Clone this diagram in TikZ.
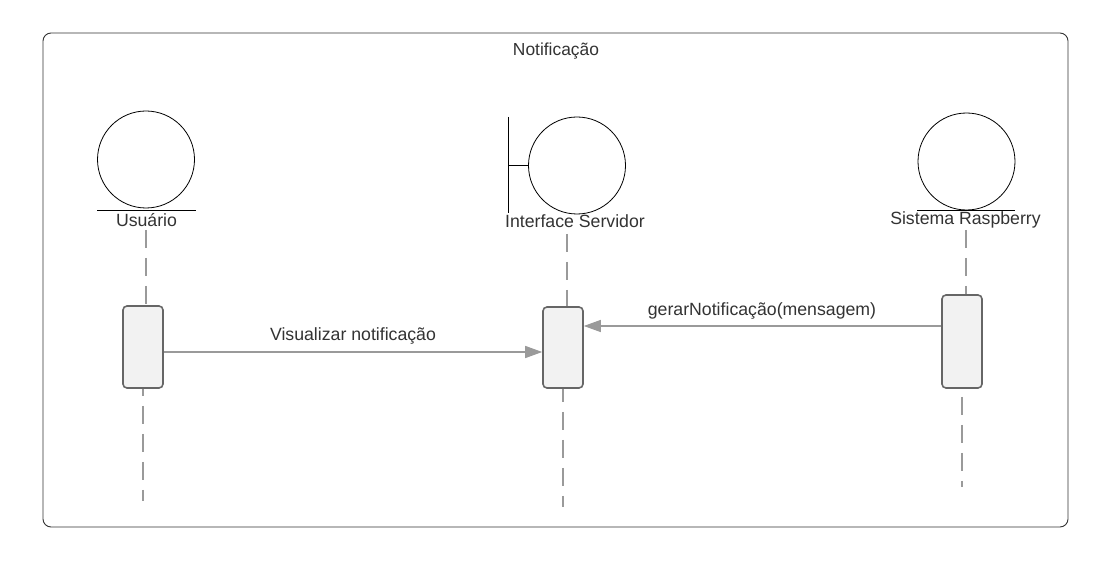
\documentclass[tikz,border=0pt]{standalone}
\usepackage{fontspec}
\setmainfont{Liberation Sans}
\usetikzlibrary{arrows.meta}
\definecolor{txt}{HTML}{333333}
\definecolor{lifec}{HTML}{9A9A9A}
\definecolor{boxb}{HTML}{666666}
\definecolor{boxf}{HTML}{F2F2F2}
\begin{document}
\begin{tikzpicture}[x=1pt,y=-1pt,
  lbl/.style={font=\fontsize{17.7}{21}\selectfont, text=txt, inner sep=0pt, anchor=base},
  msglbl/.style={lbl},
  actorc/.style={circle, draw=black, line width=0.8pt, minimum size=97pt, inner sep=0pt},
  actorline/.style={draw=black, line width=0.8pt},
  actbox/.style={rectangle, rounded corners=4pt, draw=boxb, fill=boxf, line width=1.6pt, minimum width=40pt, minimum height=82pt, inner sep=0pt},
  life/.style={draw=lifec, line width=1.6pt, dash pattern=on 18pt off 10pt},
  msg/.style={draw=lifec, line width=1.3pt, -{Triangle[length=17pt,width=12pt]}},
  frame/.style={draw=txt, line width=0.9pt, rounded corners=8pt}]
\useasboundingbox (0,0) rectangle (1109,580);
\fill[white] (0,0) rectangle (1109,580);
% frame
\draw[frame] (43,33) rectangle (1068,527);
\node[lbl, font=\fontsize{17.4}{20}\selectfont] (title) at (556,56) {Notificação};
% actors
\node[actorc] (ua) at (146,159.5) {};
\draw[actorline] (97,210) -- (196,210);
\node[lbl] (ul) at (146.5,226.5) {Usuário};

\node[actorc] (ia) at (577,165.5) {};
\coordinate (ibt) at (508,117);
\coordinate (ibb) at (508,213);
\draw[actorline] (ibt) -- (ibb);
\draw[actorline] (ia.west) -- (ia.west -| ibt);
\node[lbl] (il) at (575,228) {Interface Servidor};

\node[actorc] (ra) at (966.5,161.5) {};
\draw[actorline] (917,210) -- (1015,210);
\node[lbl] (rl) at (965.5,225) {Sistema Raspberry};
% activation boxes
\node[actbox] (ub) at (143,347) {};
\node[actbox, minimum height=81pt] (ib) at (563,347.5) {};
\node[actbox, minimum height=93pt] (rb) at (962,341.5) {};
% lifelines
\coordinate (ut) at (146,230);
\coordinate (it) at (567,234);
\coordinate (rt) at (966,230);
\draw[life] (ut) -- (ut |- ub.north);
\draw[life] (it) -- (it |- ib.north);
\draw[life] (rt) -- (rt |- rb.north);
\draw[life, dash phase=11pt] (ub.south) -- (ub.south |- 0,501);
\draw[life, dash phase=5pt] (ib.south) -- (ib.south |- 0,507);
\draw[life, dash phase=20pt] (rb.south) -- (rb.south |- 0,487);
% messages
\draw[msg, color=lifec] ([yshift=-5pt]ub.east) -- ([yshift=-4.5pt]ib.west);
\node[msglbl] (m1) at (353,341) {Visualizar notificação};
\draw[msg, color=lifec] ([yshift=15.5pt]rb.west) -- ([yshift=21.5pt]ib.east);
\node[msglbl] (m2) at (762,316) {gerarNotificação(mensagem)};
\end{tikzpicture}
\end{document}
